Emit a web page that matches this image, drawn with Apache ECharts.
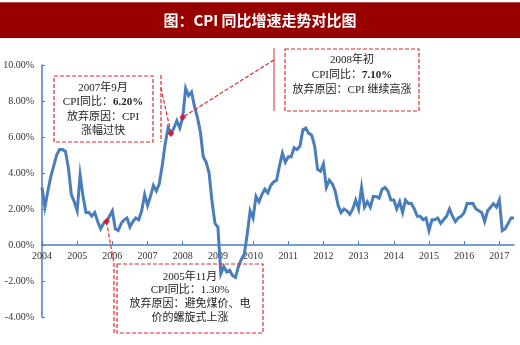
<!DOCTYPE html>
<html>
<head>
<meta charset="utf-8">
<script src="https://cdn.jsdelivr.net/npm/echarts@6/dist/echarts.min.js"></script>
<style>
  html, body { margin: 0; padding: 0; background: #fff; }
  #chart { width: 520px; height: 345px; }
</style>
</head>
<body>
<div id="chart"></div>
<script>
// China CPI, year-on-year growth (%), monthly, Jan 2004 – Jun 2017
const years = [2004, 2005, 2006, 2007, 2008, 2009, 2010, 2011, 2012, 2013, 2014, 2015, 2016, 2017];
const cpi2004 = [3.2, 2.1, 3.0, 3.8, 4.4, 5.0, 5.3, 5.3, 5.2, 4.3, 2.8, 2.4];
const cpi2005 = [1.9, 3.9, 2.7, 1.8, 1.8, 1.6, 1.8, 1.3, 0.9, 1.2, 1.3, 1.6];
const cpi2006 = [1.9, 0.9, 0.8, 1.2, 1.4, 1.5, 1.0, 1.3, 1.5, 1.4, 1.9, 2.8];
const cpi2007 = [2.2, 2.7, 3.3, 3.0, 3.4, 4.4, 5.6, 6.5, 6.2, 6.5, 6.9, 6.5];
const cpi2008 = [7.1, 8.7, 8.3, 8.5, 7.7, 7.1, 6.3, 4.9, 4.6, 4.0, 2.4, 1.2];
const cpi2009 = [1.0, -1.6, -1.2, -1.5, -1.4, -1.7, -1.8, -1.2, -0.8, -0.5, 0.6, 1.9];
const cpi2010 = [1.5, 2.7, 2.4, 2.8, 3.1, 2.9, 3.3, 3.5, 3.6, 4.4, 5.1, 4.6];
const cpi2011 = [4.9, 4.9, 5.4, 5.3, 5.5, 6.4, 6.5, 6.2, 6.1, 5.5, 4.2, 4.1];
const cpi2012 = [4.5, 3.2, 3.6, 3.4, 3.0, 2.2, 1.8, 2.0, 1.9, 1.7, 2.0, 2.5];
const cpi2013 = [2.0, 3.2, 2.1, 2.4, 2.1, 2.7, 2.7, 2.6, 3.1, 3.2, 3.0, 2.5];
const cpi2014 = [2.5, 2.0, 2.4, 1.8, 2.5, 2.3, 2.3, 2.0, 1.6, 1.6, 1.4, 1.5];
const cpi2015 = [0.8, 1.4, 1.4, 1.5, 1.2, 1.4, 1.6, 2.0, 1.6, 1.3, 1.5, 1.6];
const cpi2016 = [1.8, 2.3, 2.3, 2.3, 2.0, 1.9, 1.8, 1.3, 1.9, 2.1, 2.3, 2.1];
const cpi2017 = [2.5, 0.8, 0.9, 1.2, 1.5, 1.5];

// Highlighted months with their annotation
const marks = [
  { month: '2005-11', value: 1.3 },
  { month: '2007-09', value: 6.2 },
  { month: '2008-01', value: 7.1 }
];

const yTicks = { min: -4, max: 10, interval: 2 };

const yearly = [cpi2004, cpi2005, cpi2006, cpi2007, cpi2008, cpi2009, cpi2010,
                cpi2011, cpi2012, cpi2013, cpi2014, cpi2015, cpi2016, cpi2017];
const months = [];
const values = [];
yearly.forEach((arr, i) => {
  arr.forEach((v, m) => {
    months.push(years[i] + '-' + String(m + 1).padStart(2, '0'));
    values.push(v);
  });
});

const BLUE = '#4a7ebb';
const RED = '#e02b2b';
const SERIF = '"Liberation Serif", "Times New Roman", "Noto Sans CJK SC", serif';
const TXT = '"Liberation Serif", "Noto Sans CJK SC", serif';

const GRID = { left: 42, right: 6, top: 65, bottom: 28 };
const plotH = 345 - GRID.top - GRID.bottom;
// shift the category axis up so it runs along the zero line
const zeroOffset = -plotH * (0 - yTicks.min) / (yTicks.max - yTicks.min);

const chart = echarts.init(document.getElementById('chart'), null, { renderer: 'canvas' });

const option = {
  animation: false,
  backgroundColor: '#fff',
  grid: Object.assign({ containLabel: false }, GRID),
  xAxis: {
    type: 'category',
    data: months,
    boundaryGap: false,
    offset: zeroOffset,
    axisLine: { onZero: false, lineStyle: { color: BLUE, width: 1.5 } },
    axisTick: {
      inside: true, length: 4, lineStyle: { color: BLUE, width: 1 },
      interval: (i) => i % 12 === 0
    },
    axisLabel: {
      interval: (i) => i % 12 === 0,
      formatter: (v) => v.slice(0, 4),
      color: '#333', fontFamily: SERIF, fontSize: 10, margin: 6
    },
    splitLine: { show: false }
  },
  yAxis: {
    type: 'value',
    min: yTicks.min, max: yTicks.max, interval: yTicks.interval,
    axisLine: { show: true, lineStyle: { color: BLUE, width: 1.5 } },
    axisTick: { show: true, inside: true, length: 3, lineStyle: { color: BLUE } },
    axisLabel: {
      formatter: (v) => v.toFixed(2) + '%',
      color: '#333', fontFamily: SERIF, fontSize: 10, margin: 8
    },
    splitLine: { show: false }
  },
  series: [
    {
      type: 'line',
      data: values,
      showSymbol: false,
      symbol: 'none',
      lineStyle: { color: BLUE, width: 3, join: 'miter' },
      z: 2
    },
    {
      type: 'scatter',
      data: marks.map(m => [m.month, m.value]),
      symbol: 'diamond',
      symbolSize: 7,
      itemStyle: { color: '#c8102e' },
      z: 5
    }
  ]
};
chart.setOption(option);

// Annotation boxes and leader lines
const pt = (m) => chart.convertToPixel({ gridIndex: 0 }, [m.month, m.value]);
const pNov05 = pt(marks[0]);
const pSep07 = pt(marks[1]);
const pJan08 = pt(marks[2]);

const dash = { stroke: RED, lineWidth: 1.2, lineDash: [4, 2], fill: null };
const solid = { stroke: RED, lineWidth: 1, fill: null };
const txt = (x, y, text, extra) => ({
  type: 'text', x, y, z: 10,
  style: Object.assign({
    text, fill: '#222', font: '11px ' + TXT, align: 'center', verticalAlign: 'middle'
  }, extra || {})
});
const richTxt = (x, y, label, num) => ({
  type: 'text', x, y, z: 10,
  style: {
    text: '{a|' + label + '}{b|' + num + '}',
    align: 'center', verticalAlign: 'middle',
    rich: {
      a: { fill: '#222', fontSize: 11, fontFamily: TXT },
      b: { fill: '#222', fontSize: 11, fontFamily: TXT, fontWeight: 'bold' }
    }
  }
});
const fmt = (v) => v.toFixed(2) + '%';

const graphics = [
  // header bar
  { type: 'rect', shape: { x: 0, y: 2, width: 520, height: 36 }, style: { fill: '#990000' }, z: 1 },
  { type: 'rect', shape: { x: 0, y: 2, width: 520, height: 1 }, style: { fill: '#b85050' }, z: 1 },
  {
    type: 'text', x: 260, y: 20, z: 2,
    style: {
      text: '图：CPI 同比增速走势对比图', fill: '#fff',
      font: 'bold 15px "Noto Sans CJK SC", "Liberation Serif", sans-serif',
      align: 'center', verticalAlign: 'middle'
    }
  },

  // 2007-09 box
  { type: 'rect', shape: { x: 54, y: 76, width: 99, height: 66 }, style: dash, z: 9 },
  { type: 'line', shape: { x1: 161, y1: 75, x2: 161, y2: 142 }, style: dash, z: 9 },
  { type: 'line', shape: { x1: 161, y1: 88, x2: pSep07[0], y2: pSep07[1] }, style: dash, z: 9 },
  txt(103, 88, '2007年9月'),
  richTxt(103, 102, 'CPI同比：', fmt(marks[1].value)),
  txt(103, 117, '放弃原因：CPI'),
  txt(103, 131, '涨幅过快'),

  // 2008-01 box
  { type: 'rect', shape: { x: 285, y: 49, width: 134, height: 62 }, style: dash, z: 9 },
  { type: 'line', shape: { x1: 274, y1: 48, x2: 274, y2: 111 }, style: solid, z: 9 },
  { type: 'line', shape: { x1: 274, y1: 60, x2: pJan08[0], y2: pJan08[1] }, style: dash, z: 9 },
  txt(352, 60, '2008年初'),
  richTxt(352, 75, 'CPI同比：', fmt(marks[2].value)),
  txt(352, 90, '放弃原因：CPI 继续高涨'),

  // 2005-11 box
  { type: 'rect', shape: { x: 117, y: 264, width: 146, height: 69 }, style: dash, z: 9 },
  {
    type: 'polyline',
    shape: { points: [[pNov05[0], pNov05[1]], [114, 264], [114, 333]] },
    style: dash, z: 9
  },
  txt(190, 277, '2005年11月'),
  txt(190, 290, 'CPI同比：' + fmt(marks[0].value)),
  txt(190, 304, '放弃原因：避免煤价、电'),
  txt(190, 318, '价的螺旋式上涨')
];

chart.setOption({ graphic: graphics });
</script>
</body>
</html>
